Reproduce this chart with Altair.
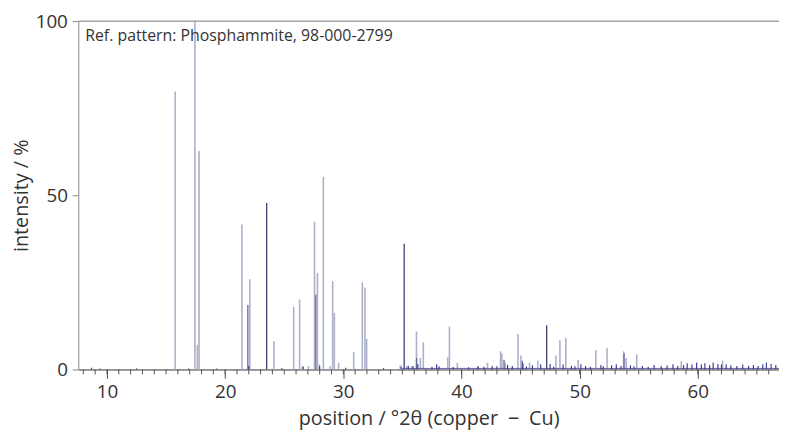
import altair as alt
import pandas as pd

# Reference pattern sticks (light grey)
ref_pos = [15.77, 17.44, 17.65, 17.79, 21.42, 22.09, 24.13, 25.80, 26.30, 26.55, 27.06,
           27.56, 27.81, 27.97, 28.31, 28.87, 29.10, 29.24, 29.60, 30.88, 31.61, 31.83,
           31.97, 34.82, 35.38, 35.80, 36.19, 36.52, 36.77, 38.84, 38.98, 39.65, 41.40,
           42.20, 43.31, 43.42, 43.70, 44.78, 45.03, 45.76, 46.46, 47.99, 48.33, 48.83,
           49.87, 51.37, 52.32, 53.72, 53.94, 54.83, 58.60, 62.10]
ref_int = [79.8, 100, 7.1, 62.7, 41.6, 25.9, 8.1, 18.0, 20.1, 1.0, 1.0,
           42.4, 27.7, 1.5, 55.3, 1.0, 25.4, 16.2, 1.9, 5.0, 25.0, 23.5,
           8.8, 1.2, 1.0, 1.0, 10.9, 3.3, 7.8, 3.5, 12.3, 1.9, 1.0,
           1.9, 5.2, 4.6, 2.0, 10.2, 4.0, 2.0, 2.5, 4.0, 8.4, 9.0,
           2.8, 5.5, 6.1, 5.2, 3.3, 4.3, 2.4, 2.6]

# Medium blue sticks
mid_pos = [21.92, 27.67, 36.20, 43.60, 45.15, 53.76]
mid_int = [18.5, 21.5, 3.3, 2.8, 2.5, 4.6]

# Dark sticks
dark_pos = [23.51, 35.15, 47.21]
dark_int = [47.8, 36.1, 12.7]

# Measured pattern: small blue spikes near the baseline
meas_pos = [8.7, 9.4, 12.5, 16.9, 19.3, 22.0, 24.8, 26.6, 28.0, 30.2, 33.4, 34.9,
            35.5, 35.9, 36.3, 37.5, 37.9, 38.1, 39.3, 40.6, 41.4, 41.9, 42.6, 43.0,
            43.9, 44.3, 45.2, 45.5, 46.0, 46.7, 47.5, 47.8, 48.6, 49.3, 49.6, 50.1,
            50.5, 50.9, 51.8, 52.0, 52.7, 53.1, 53.5, 54.3, 54.6, 55.3, 55.8, 56.3,
            56.9, 57.4, 57.9, 58.3, 58.8, 59.1, 59.5, 59.9, 60.3, 60.6, 61.0, 61.3,
            61.7, 62.0, 62.4, 62.8, 63.3, 63.8, 64.3, 64.7, 65.1, 65.5, 65.8, 66.2, 66.6]
meas_int = [0.5, 0.3, 0.3, 0.3, 0.3, 1.0, 0.4, 0.8, 0.9, 0.5, 0.4, 0.8,
            1.0, 0.9, 1.6, 0.8, 1.5, 0.9, 0.7, 0.6, 0.9, 0.8, 1.0, 0.9,
            1.3, 1.0, 1.8, 0.9, 1.2, 1.5, 1.6, 0.8, 1.4, 1.1, 0.9, 1.5,
            1.0, 0.8, 1.3, 0.9, 1.2, 1.5, 1.0, 1.2, 0.9, 1.0, 0.8, 1.3,
            1.0, 1.2, 1.5, 1.0, 1.3, 1.8, 1.4, 2.0, 1.5, 1.8, 1.3, 2.0,
            1.6, 1.4, 1.5, 1.2, 1.0, 1.4, 1.1, 1.3, 1.0, 1.5, 2.0, 1.6, 1.3]

minor_ticks = list(range(8, 67))
major_ticks = [10, 20, 30, 40, 50, 60]
y_ticks = [0, 50, 100]

XMIN, XMAX = 7.57, 66.87
FONT = "Open Sans"

ref = pd.DataFrame({"pos": ref_pos, "inten": ref_int})
mid = pd.DataFrame({"pos": mid_pos, "inten": mid_int})
dark = pd.DataFrame({"pos": dark_pos, "inten": dark_int})
meas = pd.DataFrame({"pos": meas_pos, "inten": meas_int})
minor = pd.DataFrame({"pos": minor_ticks})
one = pd.DataFrame({"a": [0]})

xscale = alt.Scale(domain=[XMIN, XMAX], nice=False, zero=False)
yscale = alt.Scale(domain=[0, 100], nice=False)

xaxis = alt.Axis(values=major_ticks, title="position / °2θ (copper\u2002−\u2002Cu)",
                 tickSize=9, labelFontSize=19, titleFontSize=20, labelPadding=4,
                 titlePadding=8, grid=False, domainColor="#444",
                 tickColor="#555", labelColor="#333", titleColor="#333",
                 titleFontWeight="normal", labelFont=FONT, titleFont=FONT)
yaxis = alt.Axis(values=y_ticks, title="intensity / %", tickSize=6,
                 labelFontSize=19, titleFontSize=20, labelPadding=5, titlePadding=4,
                 grid=False, domainColor="#999", tickColor="#888", labelColor="#333",
                 titleColor="#333", titleFontWeight="normal", labelFont=FONT,
                 titleFont=FONT)

ref_layer = alt.Chart(ref).mark_rule(color="#adb0c9", strokeWidth=1.6).encode(
    x=alt.X("pos:Q", scale=xscale, axis=xaxis),
    y=alt.Y("inten:Q", scale=yscale, axis=yaxis),
    y2=alt.datum(0),
)
mid_layer = alt.Chart(mid).mark_rule(color="#6c6ea6", strokeWidth=1.4).encode(
    x="pos:Q", y="inten:Q", y2=alt.datum(0))
dark_layer = alt.Chart(dark).mark_rule(color="#3d4070", strokeWidth=1.3).encode(
    x="pos:Q", y="inten:Q", y2=alt.datum(0))
meas_layer = alt.Chart(meas).mark_rule(color="#2d3190", strokeWidth=1.1).encode(
    x="pos:Q", y="inten:Q", y2=alt.datum(0))
baseline = alt.Chart(one).mark_rule(color="#3a3d88", strokeWidth=0.8).encode(
    x=alt.datum(35.0), x2=alt.datum(XMAX), y=alt.datum(0.3))
minor_layer = alt.Chart(minor).mark_rule(color="#555", strokeWidth=1).encode(
    x="pos:Q", y=alt.value(352), y2=alt.value(357))
top_border = alt.Chart(one).mark_rule(color="#999", strokeWidth=1.2).encode(
    x=alt.datum(XMIN), x2=alt.datum(XMAX), y=alt.datum(100))
label = alt.Chart(one).mark_text(
    text="Ref. pattern: Phosphammite, 98-000-2799", align="left", baseline="middle",
    fontSize=16, font=FONT, color="#333").encode(x=alt.value(7), y=alt.value(15))

chart = alt.layer(ref_layer, mid_layer, dark_layer, meas_layer, baseline, minor_layer,
                  top_border, label).properties(
    width=708, height=352, autosize="none",
    padding={"left": 71, "top": 11, "right": 0, "bottom": 63},
).configure_view(stroke=None).configure(background="white")

chart.save("out.html", embed_options={"renderer": "svg", "actions": False})
